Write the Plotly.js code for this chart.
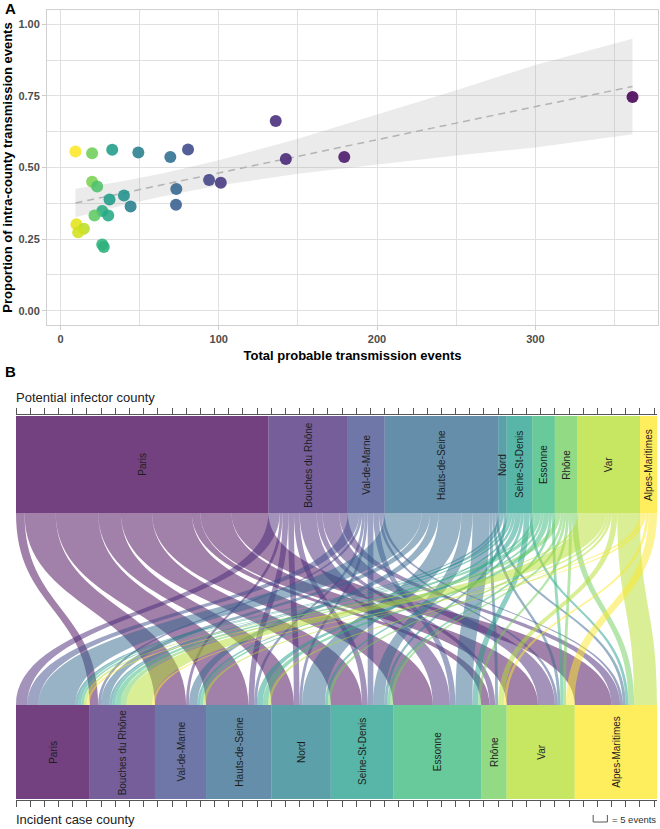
<!DOCTYPE html>
<html><head><meta charset="utf-8">
<script src="https://cdn.plot.ly/plotly-3.0.1.min.js"></script>
<style>html,body{margin:0;padding:0;background:#fff}#chart{width:660px;height:829px}</style>
</head><body><div id="chart"></div>
<script>
// ---------- Panel A data ----------
const totalEvents = [9.5, 20, 32.7, 49.2, 69.4, 80.6, 136, 142.4, 93.9, 101.3, 73.2, 73, 40.1, 44.3, 31, 20, 23.2, 26.4, 21.5, 30.2, 10.1, 14.8, 11.2, 26.4, 27.4, 179.3, 361.4];
const propIntra   = [0.556, 0.550, 0.562, 0.552, 0.537, 0.563, 0.662, 0.530, 0.456, 0.447, 0.425, 0.370, 0.402, 0.364, 0.388, 0.450, 0.434, 0.348, 0.332, 0.332, 0.302, 0.286, 0.274, 0.231, 0.222, 0.537, 0.746];
const colorVal    = [1.0, 0.78, 0.55, 0.42, 0.36, 0.22, 0.12, 0.1, 0.2, 0.16, 0.32, 0.3, 0.5, 0.42, 0.55, 0.8, 0.72, 0.62, 0.75, 0.6, 0.96, 0.9, 0.93, 0.65, 0.64, 0.06, 0.0];
// linear fit and confidence band
const smoothX   = [9.5, 40, 65, 100, 150, 200, 250, 300, 361.4];
const smoothFit = [0.376, 0.411, 0.440, 0.481, 0.539, 0.597, 0.655, 0.713, 0.783];
const smoothLo  = [0.326, 0.369, 0.400, 0.437, 0.478, 0.510, 0.542, 0.570, 0.616];
const smoothHi  = [0.426, 0.453, 0.480, 0.525, 0.600, 0.685, 0.770, 0.858, 0.950];

// ---------- Panel B data ----------
const counties = ['Paris', 'Bouches du Rhône', 'Val-de-Marne', 'Hauts-de-Seine', 'Nord', 'Seine-St-Denis', 'Essonne', 'Rhône', 'Var', 'Alpes-Maritimes'];
// events from infector county (row) to incident county (columns in `counties` order)
const fromParis    = [0, 3, 11, 15, 8, 11, 14, 3, 11, 13];
const fromBdR      = [4, 0, 1, 2, 2, 2, 6, 2, 6, 3];
const fromValMarne = [4, 1, 0, 1, 1, 2, 2, 0, 1, 1];
const fromHauts    = [13, 3, 3, 0, 8, 4, 6, 1, 1, 1];
const fromNord     = [1, 1, 0, 0, 0, 1, 0, 0, 0, 0];
const fromSSD      = [1, 1, 1, 2, 1, 0, 2, 0, 0, 1];
const fromEssonne  = [1, 2, 1, 2, 0, 1, 0, 0, 1, 0];
const fromRhone    = [0, 2, 0, 0, 1, 1, 1, 0, 1, 2];
const fromVar      = [1, 9, 1, 1, 0, 0, 0, 2, 0, 8];
const fromAlpes    = [1, 1, 0, 0, 0, 0, 0, 1, 3, 0];
const countyColors = ['#440154', '#482878', '#3E4A89', '#31688E', '#26828E', '#1F9E89', '#35B779', '#6DCD59', '#B4DE2C', '#FDE725'];

const flows = [fromParis, fromBdR, fromValMarne, fromHauts, fromNord, fromSSD, fromEssonne, fromRhone, fromVar, fromAlpes];
const n = counties.length;
const rowSum = flows.map(r => r.reduce((a, b) => a + b, 0));
const colSum = counties.map((_, j) => flows.reduce((a, r) => a + r[j], 0));
const total = rowSum.reduce((a, b) => a + b, 0);
const topStart = [], botStart = [];
{ let a = 0, b = 0; for (let i = 0; i < n; i++) { topStart.push(a); a += rowSum[i]; botStart.push(b); b += colSum[i]; } }

// layout constants (vertical positions, in y2 units = figure pixel rows)
const Y_TOP0 = 416, Y_TOP1 = 513, Y_BOT0 = 705, Y_BOT1 = 799;
const FONT = 'Liberation Sans, Arial, sans-serif';
const W = 660, H = 829;
const px = v => v / W, py = v => 1 - v / H;

function hexA(hex, a) {
  const r = parseInt(hex.slice(1, 3), 16), g = parseInt(hex.slice(3, 5), 16), b = parseInt(hex.slice(5, 7), 16);
  return `rgba(${r},${g},${b},${a})`;
}

const shapes = [];
const annotations = [];
// ribbons
const mid = (Y_TOP1 + Y_BOT0) / 2;
for (let i = 0; i < n; i++) {
  for (let j = 0; j < n; j++) {
    const v = flows[i][j];
    if (!v) continue;
    let offT = 0; for (let k = 0; k < j; k++) offT += flows[i][k];
    let offB = 0; for (let k = 0; k < i; k++) offB += flows[k][j];
    const a0 = topStart[i] + offT, a1 = a0 + v;
    const b0 = botStart[j] + offB, b1 = b0 + v;
    shapes.push({
      type: 'path', xref: 'x2', yref: 'y2', layer: 'below',
      path: `M ${a0},${Y_TOP1} L ${a1},${Y_TOP1} C ${a1},${mid} ${b1},${mid} ${b1},${Y_BOT0} L ${b0},${Y_BOT0} C ${b0},${mid} ${a0},${mid} ${a0},${Y_TOP1} Z`,
      fillcolor: hexA(countyColors[i], 0.5), line: {width: 0}
    });
  }
}
// strata
for (let i = 0; i < n; i++) {
  shapes.push({type: 'rect', xref: 'x2', yref: 'y2', layer: 'below', x0: topStart[i], x1: topStart[i] + rowSum[i], y0: Y_TOP0, y1: Y_TOP1,
    fillcolor: hexA(countyColors[i], 0.75), line: {width: 0}});
  shapes.push({type: 'rect', xref: 'x2', yref: 'y2', layer: 'below', x0: botStart[i], x1: botStart[i] + colSum[i], y0: Y_BOT0, y1: Y_BOT1,
    fillcolor: hexA(countyColors[i], 0.75), line: {width: 0}});
  annotations.push({xref: 'x2', yref: 'y2', x: topStart[i] + rowSum[i] / 2, y: (Y_TOP0 + Y_TOP1) / 2, text: counties[i], textangle: -90,
    showarrow: false, font: {family: FONT, size: 10, color: '#1e1e1e'}});
  annotations.push({xref: 'x2', yref: 'y2', x: botStart[i] + colSum[i] / 2, y: (Y_BOT0 + Y_BOT1) / 2, text: counties[i], textangle: -90,
    showarrow: false, font: {family: FONT, size: 10, color: '#1e1e1e'}});
}
// 5-event scale bracket
shapes.push({type: 'path', xref: 'x2', yref: 'paper', layer: 'above',
  path: `M ${total - 22.5},${py(815)} L ${total - 22.5},${py(822)} L ${total - 17.5},${py(822)} L ${total - 17.5},${py(815)}`,
  line: {color: '#555', width: 1}});

annotations.push(
  {xref: 'paper', yref: 'paper', x: px(3), y: py(8), xanchor: 'left', yanchor: 'middle', text: '<b>A</b>', showarrow: false, font: {family: FONT, size: 15, color: '#000'}},
  {xref: 'paper', yref: 'paper', x: px(3), y: py(372), xanchor: 'left', yanchor: 'middle', text: '<b>B</b>', showarrow: false, font: {family: FONT, size: 15, color: '#000'}},
  {xref: 'paper', yref: 'paper', x: px(14), y: py(397), xanchor: 'left', yanchor: 'middle', text: 'Potential infector county', showarrow: false, font: {family: FONT, size: 13, color: '#222'}},
  {xref: 'paper', yref: 'paper', x: px(14), y: py(819), xanchor: 'left', yanchor: 'middle', text: 'Incident case county', showarrow: false, font: {family: FONT, size: 13, color: '#222'}},
  {xref: 'paper', yref: 'paper', x: px(658), y: py(819), xanchor: 'right', yanchor: 'middle', text: '= 5 events', showarrow: false, font: {family: FONT, size: 9.5, color: '#333'}}
);

const traces = [
  {x: smoothX, y: smoothLo, type: 'scatter', mode: 'lines', line: {width: 0}, hoverinfo: 'skip', showlegend: false, xaxis: 'x', yaxis: 'y'},
  {x: smoothX, y: smoothHi, type: 'scatter', mode: 'lines', line: {width: 0}, fill: 'tonexty', fillcolor: 'rgba(153,153,153,0.2)', hoverinfo: 'skip', showlegend: false, xaxis: 'x', yaxis: 'y'},
  {x: smoothX, y: smoothFit, type: 'scatter', mode: 'lines', line: {color: '#b3b3b3', width: 1.5, dash: '7px,5px'}, hoverinfo: 'skip', showlegend: false, xaxis: 'x', yaxis: 'y'},
  {x: totalEvents, y: propIntra, type: 'scatter', mode: 'markers', showlegend: false, xaxis: 'x', yaxis: 'y',
    marker: {size: 12, color: colorVal, colorscale: 'Viridis', cmin: 0, cmax: 1, opacity: 0.88, line: {width: 0}}},
  {x: topStart.map((s, i) => s + rowSum[i] / 2), y: topStart.map(() => (Y_TOP0 + Y_TOP1) / 2), type: 'scatter', mode: 'markers',
    marker: {opacity: 0}, hoverinfo: 'skip', showlegend: false, xaxis: 'x2', yaxis: 'y2'},
  {x: botStart.map((s, i) => s + colSum[i] / 2), y: botStart.map(() => (Y_BOT0 + Y_BOT1) / 2), type: 'scatter', mode: 'markers',
    marker: {opacity: 0}, hoverinfo: 'skip', showlegend: false, xaxis: 'x3', yaxis: 'y2'}
];

const gridC = '#e0e0e0';
const layout = {
  width: W, height: H,
  margin: {l: 0, r: 0, t: 0, b: 0, pad: 0},
  paper_bgcolor: '#fff', plot_bgcolor: 'rgba(0,0,0,0)',
  font: {family: FONT},
  showlegend: false,
  xaxis: {
    domain: [px(47), px(658)], range: [-8.5, 377.5], anchor: 'y', automargin: false,
    dtick: 100, tick0: 0, showgrid: true, gridcolor: gridC, gridwidth: 1.3, zeroline: false,
    minor: {dtick: 50, tick0: 0, showgrid: true, gridcolor: gridC, gridwidth: 1.3},
    showline: true, mirror: true, linecolor: '#d0d0d0', linewidth: 1,
    ticks: 'outside', ticklen: 4, tickcolor: '#cccccc',
    tickfont: {family: FONT, size: 11, color: '#4d4d4d', weight: 'bold'},
    title: {text: 'Total probable transmission events', standoff: 6, font: {family: FONT, size: 13, color: '#000', weight: 'bold'}}
  },
  yaxis: {
    domain: [py(325), py(10)], range: [-0.05, 1.05], anchor: 'x', automargin: false,
    dtick: 0.25, tick0: 0, tickformat: '.2f', showgrid: true, gridcolor: gridC, gridwidth: 1.3, zeroline: false,
    minor: {dtick: 0.125, tick0: 0, showgrid: true, gridcolor: gridC, gridwidth: 1.3},
    showline: true, mirror: true, linecolor: '#d0d0d0', linewidth: 1,
    ticks: 'outside', ticklen: 4, tickcolor: '#cccccc',
    tickfont: {family: FONT, size: 11, color: '#4d4d4d', weight: 'bold'},
    title: {text: 'Proportion of intra-county transmission events', standoff: 5, font: {family: FONT, size: 13, color: '#000', weight: 'bold'}}
  },
  xaxis2: {
    domain: [px(16), px(657)], range: [0, total], anchor: 'y2', side: 'top', automargin: false,
    showgrid: false, zeroline: false, showline: true, linecolor: '#555', linewidth: 1,
    ticks: 'outside', ticklen: 6, tickwidth: 1, tickcolor: '#555', dtick: 5, tick0: 0, showticklabels: false
  },
  xaxis3: {
    overlaying: 'x2', range: [0, total], anchor: 'y2', side: 'bottom', automargin: false,
    showgrid: false, zeroline: false, showline: true, linecolor: '#555', linewidth: 1,
    ticks: 'outside', ticklen: 6, tickwidth: 1, tickcolor: '#555', dtick: 5, tick0: 0, showticklabels: false
  },
  yaxis2: {
    domain: [py(800), py(415)], range: [800, 415], anchor: 'x2', visible: false, automargin: false
  },
  shapes: shapes,
  annotations: annotations
};

Plotly.newPlot('chart', traces, layout, {displayModeBar: false, responsive: false});
</script>
</body></html>
